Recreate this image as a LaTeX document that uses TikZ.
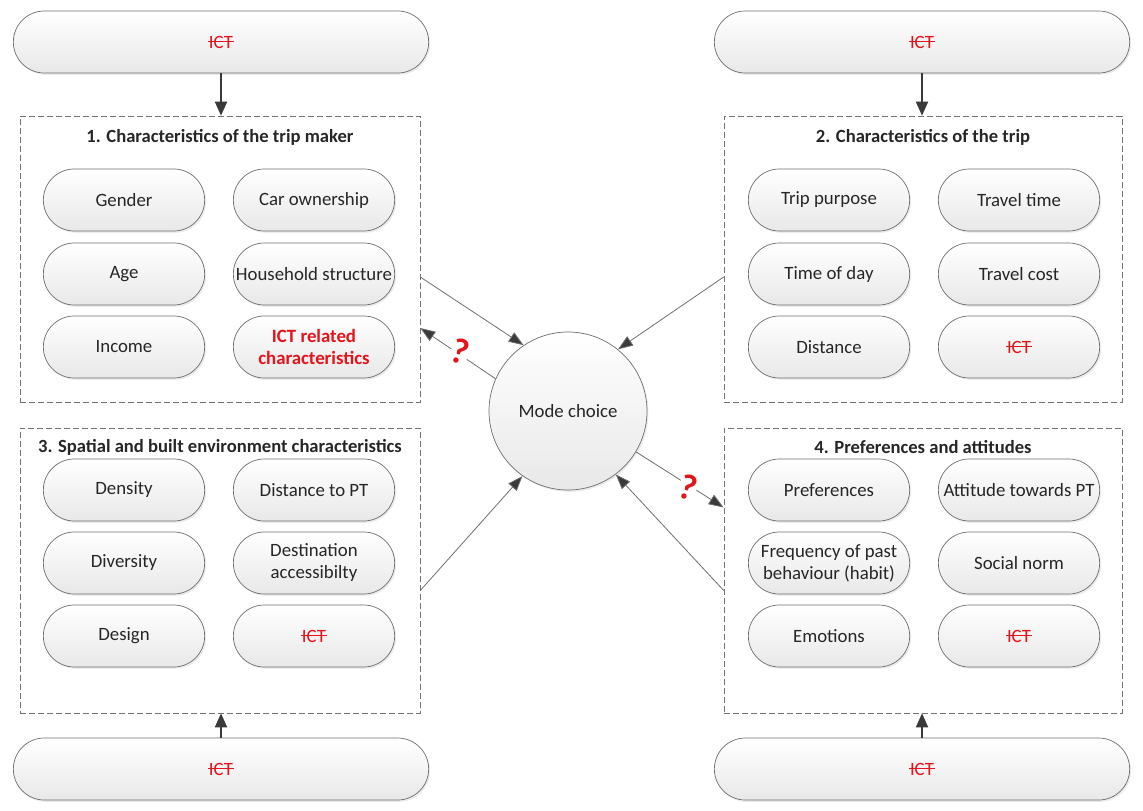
\documentclass[tikz,border=0pt]{standalone}
\usepackage{fontspec}
\setmainfont{Carlito}
\usetikzlibrary{shapes.misc,shadows,arrows.meta}

\definecolor{ictred}{HTML}{E3141B}
\definecolor{txt}{HTML}{262626}
\definecolor{edge}{HTML}{6E6E6E}
\definecolor{tipc}{HTML}{3A3A3A}

% "ICT" in red, struck through
\newcommand{\ictcut}{\textcolor{ictred}{\setbox0\hbox{ICT}%
  \kern-1pt\rlap{\rule[0.34em]{\dimexpr\wd0+2pt\relax}{1pt}}\kern1pt\box0}}

\tikzset{
  pill/.style={rounded rectangle, draw=edge, line width=0.7pt,
    top color=white, bottom color=black!9,
    drop shadow={opacity=0.16, shadow xshift=1.5pt, shadow yshift=-1.8pt},
    minimum width=168pt, minimum height=62pt, align=center,
    text=txt, font=\fontsize{18.8}{22}\selectfont},
  widepill/.style={pill, minimum width=422pt},
  groupbox/.style={draw=black!55, dash pattern=on 6pt off 3pt, line width=0.6pt},
  boxtitle/.style={font=\fontsize{18.6}{22}\selectfont\bfseries, text=txt},
  hub/.style={circle, draw=edge, line width=0.7pt, minimum size=158pt,
    top color=white, bottom color=black!9,
    drop shadow={opacity=0.16, shadow xshift=1.5pt, shadow yshift=-1.8pt},
    text=txt, font=\fontsize{18.8}{22}\selectfont},
  link/.style={draw=edge, line width=0.8pt,
    -{Triangle[length=15pt,width=11pt,fill=tipc]}},
  ictlink/.style={draw=tipc, line width=1.8pt,
    -{Triangle[length=14pt,width=12pt]}},
  qmark/.style={text=ictred, fill=white, inner sep=0.5pt,
    font=\fontsize{36}{36}\selectfont\bfseries, rotate=-18}
}

\begin{document}
\begin{tikzpicture}[x=1pt,y=-1pt]
\useasboundingbox (0,0) rectangle (1143,811);

% group frames
\node[groupbox, minimum width=400pt, minimum height=286pt] (b1) at (220,259) {};
\node[groupbox, minimum width=398pt, minimum height=286pt] (b2) at (923,259) {};
\node[groupbox, minimum width=400pt, minimum height=285pt] (b3) at (220,570.5) {};
\node[groupbox, minimum width=398pt, minimum height=285pt] (b4) at (923,570.5) {};

\node[boxtitle] (t1) at (220,137) {1. Characteristics of the trip maker};
\node[boxtitle] (t2) at (923,137) {2. Characteristics of the trip};
\node[boxtitle] (t3) at (220,447) {3. Spatial and built environment characteristics};
\node[boxtitle] (t4) at (923,447) {4. Preferences and attitudes};

% 1. trip maker
\node[pill] (p11) at (124,200) {Gender};
\node[pill] (p12) at (314,200) {Car ownership};
\node[pill] (p13) at (124,274) {Age};
\node[pill] (p14) at (314,274) {Household structure};
\node[pill] (p15) at (124,347) {Income};
\node[pill, text=ictred, font=\fontsize{18.8}{22}\selectfont\bfseries] (p16) at (314,347) {ICT related\\characteristics};

% 2. trip
\node[pill] (p21) at (829,200) {Trip purpose};
\node[pill] (p22) at (1019,200) {Travel time};
\node[pill] (p23) at (829,274) {Time of day};
\node[pill] (p24) at (1019,274) {Travel cost};
\node[pill] (p25) at (829,347) {Distance};
\node[pill] (p26) at (1019,347) {\ictcut};

% 3. spatial and built environment
\node[pill] (p31) at (124,490) {Density};
\node[pill] (p32) at (314,490) {Distance to PT};
\node[pill] (p33) at (124,563) {Diversity};
\node[pill] (p34) at (314,563) {Destination\\accessibilty};
\node[pill] (p35) at (124,636) {Design};
\node[pill] (p36) at (314,636) {\ictcut};

% 4. preferences and attitudes
\node[pill] (p41) at (829,490) {Preferences};
\node[pill] (p42) at (1019,490) {Attitude towards PT};
\node[pill] (p43) at (829,563) {Frequency of past\\behaviour (habit)};
\node[pill] (p44) at (1019,563) {Social norm};
\node[pill] (p45) at (829,636) {Emotions};
\node[pill] (p46) at (1019,636) {\ictcut};

% ICT pills outside the frames
\node[widepill] (i1) at (221,42) {\ictcut};
\node[widepill] (i2) at (922,42) {\ictcut};
\node[widepill] (i3) at (221,769) {\ictcut};
\node[widepill] (i4) at (922,769) {\ictcut};

\draw[ictlink] (i1.south) -- (i1.south |- b1.north);
\draw[ictlink] (i2.south) -- (i2.south |- b2.north);
\draw[ictlink] (i3.north) -- (i3.north |- b3.south);
\draw[ictlink] (i4.north) -- (i4.north |- b4.south);

% central node
\node[hub] (mc) at (568,411) {Mode choice};

\draw[link] ([yshift=-18pt]b1.east) -- (mc.124);
\draw[link] ([yshift=-18pt]b2.west) -- (mc.51);
\draw[link] (mc.156) -- ([yshift=-69pt]b1.east);
\draw[link] ([yshift=-20pt]b3.east) -- (mc.235);
\draw[link] ([yshift=-20pt]b4.west) -- (mc.307);
\draw[link] (mc.329) -- ([yshift=63pt]b4.west);

% question marks sitting on the two feedback arrows
\node[qmark] (q1) at (460,351) {?};
\node[qmark] (q2) at (688,487) {?};
\end{tikzpicture}
\end{document}
